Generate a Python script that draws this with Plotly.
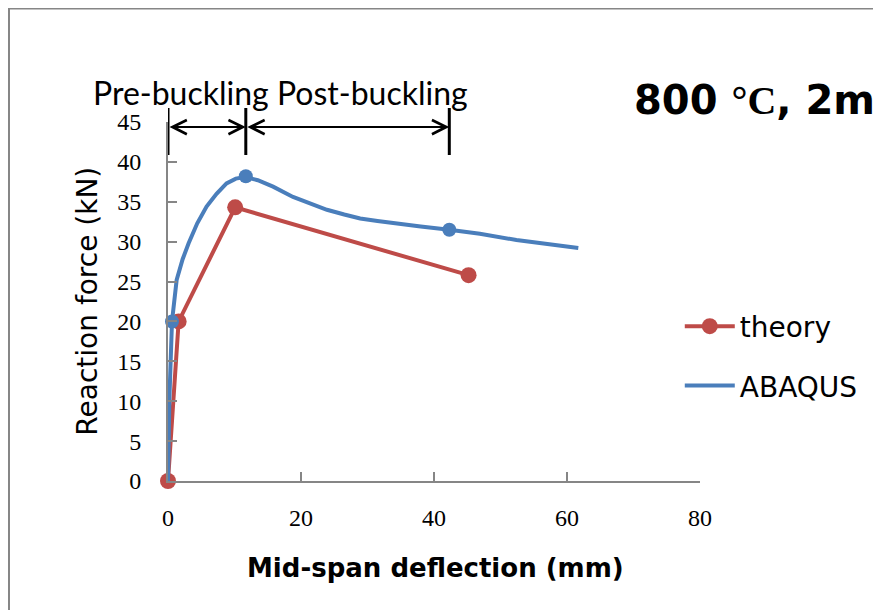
import plotly.graph_objects as go

# theory curve (red, with markers)
theory_x = [0, 1.6, 10.1, 45.2]
theory_y = [0, 20.0, 34.3, 25.8]

# ABAQUS curve (blue line)
abaqus_x = [0, 0.2, 0.6, 1.3, 2.2, 3.1, 4.4, 5.8, 7.3, 8.8, 10.2, 11.6, 13.5, 15.8,
            18.8, 21.5, 23.9, 26.5, 28.9, 31.5, 33.9, 38.0, 42.3, 46.9, 52.4, 57.0, 61.7]
abaqus_y = [0, 10.0, 20.0, 25.2, 27.8, 29.8, 32.3, 34.4, 36.0, 37.3, 37.9, 38.1, 37.7, 36.9,
            35.6, 34.7, 34.0, 33.4, 32.9, 32.6, 32.3, 31.9, 31.5, 31.0, 30.2, 29.7, 29.2]

# ABAQUS key points (markers only)
abaqus_pts_x = [0.6, 11.7, 42.3]
abaqus_pts_y = [20.0, 38.2, 31.5]

# buckling stage boundaries (mm)
stage_x = [0, 11.7, 42.3]

RED = "#be4b48"
BLUE = "#4a7ebb"
GRAY = "#868686"

fig = go.Figure()

fig.add_trace(go.Scatter(
    x=theory_x, y=theory_y, name="theory", mode="lines+markers",
    line=dict(color=RED, width=4), marker=dict(color=RED, size=16),
    legendgroup="a", cliponaxis=False,
))
fig.add_trace(go.Scatter(
    x=abaqus_x, y=abaqus_y, name="ABAQUS", mode="lines",
    line=dict(color=BLUE, width=4), legendgroup="b", cliponaxis=False,
))
fig.add_trace(go.Scatter(
    x=abaqus_pts_x, y=abaqus_pts_y, mode="markers", showlegend=False,
    marker=dict(color=BLUE, size=14), cliponaxis=False,
))

shapes = []
for sx in stage_x:
    shapes.append(dict(type="line", xref="x", yref="paper", x0=sx, x1=sx,
                       y0=0.908, y1=1.039, line=dict(color="black", width=3)))
# chart border
shapes.append(dict(type="rect", xref="paper", yref="paper", x0=-0.2989, x1=1.4,
                   y0=-0.4, y1=1.316, line=dict(color=GRAY, width=2)))

annotations = []
for a, b in [(stage_x[0], stage_x[1]), (stage_x[1], stage_x[2])]:
    annotations.append(dict(
        x=b, y=0.986, xref="x", yref="paper", ax=a, ay=0, axref="x", ayref="pixel",
        text="", showarrow=True, arrowside="end+start", arrowhead=5, startarrowhead=5,
        arrowsize=1.4, startarrowsize=1.4, arrowwidth=2, arrowcolor="black",
    ))

annotations += [
    dict(x=0.212, y=1.081, xref="paper", yref="paper", xanchor="center", yanchor="middle",
         showarrow=False, text="Pre-buckling Post-buckling",
         font=dict(family="Lato", size=32, color="black")),
    dict(x=0.872, y=1.061, xref="paper", yref="paper", xanchor="left", yanchor="middle",
         showarrow=False,
         text="<b>800 </b><span style='font-family:Liberation Serif'><b>°C</b></span><b>, 2m</b>",
         font=dict(family="DejaVu Sans", size=40, color="black")),
    dict(x=-0.152, y=0.5, xref="paper", yref="paper", xanchor="center", yanchor="middle",
         showarrow=False, textangle=-90, text="Reaction force (kN)",
         font=dict(family="DejaVu Sans", size=28, color="black")),
    dict(x=0.502, y=-0.242, xref="paper", yref="paper", xanchor="center", yanchor="middle",
         showarrow=False, text="<b>Mid-span deflection (mm)</b>",
         font=dict(family="DejaVu Sans", size=26, color="black")),
]

fig.update_layout(
    width=881, height=610,
    margin=dict(l=160, r=189, t=114, b=137),
    paper_bgcolor="white", plot_bgcolor="white",
    shapes=shapes, annotations=annotations,
    showlegend=True,
    legend=dict(x=0.962, y=0.50, xanchor="left", yanchor="top",
                font=dict(family="DejaVu Sans", size=28, color="black"),
                traceorder="grouped", tracegroupgap=20, itemwidth=50,
                bgcolor="rgba(0,0,0,0)"),
    xaxis=dict(range=[0, 80], tickvals=[0, 20, 40, 60, 80], showgrid=False, zeroline=False,
               showline=True, linecolor=GRAY, linewidth=2, ticks="inside", ticklen=9,
               tickcolor=GRAY, tickwidth=2, ticklabelstandoff=14,
               tickfont=dict(family="Liberation Serif", size=24, color="black")),
    yaxis=dict(range=[0, 45], dtick=5, showgrid=False, zeroline=False,
               showline=True, linecolor=GRAY, linewidth=2, ticks="inside", ticklen=9,
               tickcolor=GRAY, tickwidth=2, ticklabelstandoff=20,
               tickfont=dict(family="Liberation Serif", size=24, color="black")),
)

fig.write_html("out.html")
